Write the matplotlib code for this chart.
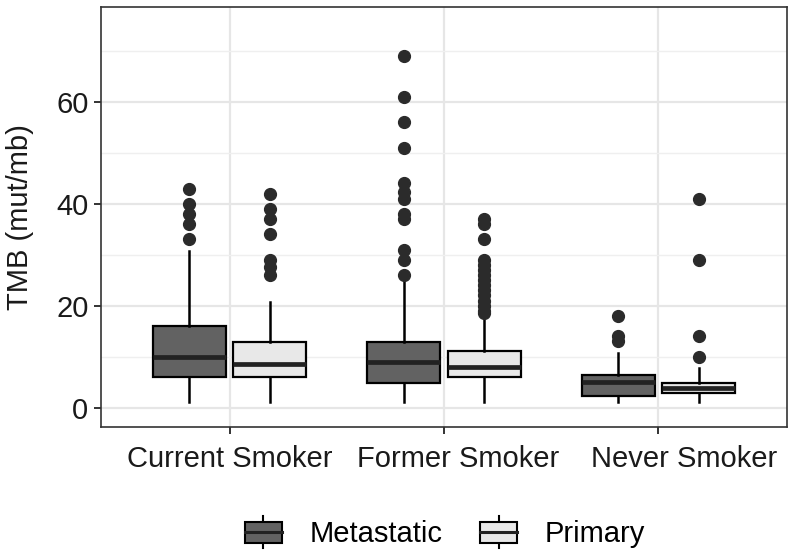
import matplotlib
matplotlib.use("Agg")
import matplotlib.pyplot as plt
from matplotlib.legend_handler import HandlerBase
from matplotlib.patches import Rectangle, Patch
from matplotlib.lines import Line2D
from matplotlib.transforms import ScaledTranslation

plt.rcParams['font.family'] = ['Liberation Sans', 'DejaVu Sans']

# data
categories = ["Current Smoker", "Former Smoker", "Never Smoker"]
groups = ["Metastatic", "Primary"]

# per category, Metastatic then Primary
met_q1 = [5.9, 4.9, 2.3]
met_med = [10.0, 9.0, 5.1]
met_q3 = [16.0, 12.9, 6.4]
met_lo = [1.0, 1.0, 1.0]
met_hi = [30.8, 25.2, 10.8]
met_out = [
    [43, 40, 38, 36, 33],
    [69, 61, 56, 51, 44, 42.4, 41, 38, 37, 31, 29, 26],
    [18, 14, 13],
]

pri_q1 = [5.9, 5.9, 2.8]
pri_med = [8.5, 8.0, 3.8]
pri_q3 = [12.9, 11.0, 4.9]
pri_lo = [1.0, 1.0, 1.0]
pri_hi = [20.8, 17.6, 7.7]
pri_out = [
    [42, 39, 37, 34, 29, 27.5, 26],
    [37, 36, 33, 29, 28, 27, 26, 25, 24, 23, 22, 21, 20, 19, 18.5],
    [41, 29, 14, 10],
]

met_color = "#626262"
pri_color = "#e8e8e8"


def stats(q1, med, q3, lo, hi, out):
    res = []
    for i in range(len(q1)):
        res.append(dict(q1=q1[i], med=med[i], q3=q3[i], whislo=lo[i],
                        whishi=hi[i], fliers=out[i]))
    return res


fig = plt.figure(figsize=(7.92, 5.59), dpi=100)
ax = fig.add_axes([0.1275, 0.2361, 0.8662, 0.7514])

xs = list(range(1, len(categories) + 1))
off = 0.1875
w = 0.34
box_kw = dict(patch_artist=True, widths=w, showcaps=False,
              boxprops=dict(edgecolor="black", linewidth=1.6),
              medianprops=dict(color="#222222", linewidth=3.4),
              whiskerprops=dict(color="black", linewidth=1.8),
              flierprops=dict(marker="o", markerfacecolor="#2b2b2b",
                              markeredgecolor="#2b2b2b", markersize=8.5))

b1 = ax.bxp(stats(met_q1, met_med, met_q3, met_lo, met_hi, met_out),
            positions=[x - off for x in xs], **box_kw)
b2 = ax.bxp(stats(pri_q1, pri_med, pri_q3, pri_lo, pri_hi, pri_out),
            positions=[x + off for x in xs], **box_kw)
for p in b1["boxes"]:
    p.set_facecolor(met_color)
for p in b2["boxes"]:
    p.set_facecolor(pri_color)

ax.set_xlim(0.4, 3.6)
ax.set_ylim(-3.83, 78.65)
ax.set_xticks(xs)
ax.set_xticklabels(categories)
ax.set_yticks([0, 20, 40, 60])
ax.set_yticks([10, 30, 50, 70], minor=True)
ax.tick_params(axis="both", which="major", labelsize=21, color="#333333",
               length=5, width=1.4, labelcolor="#1a1a1a")
ax.tick_params(axis="x", which="major", pad=8)
ax.tick_params(axis="y", which="major", pad=4)
ax.tick_params(axis="y", which="minor", length=0)
ax.grid(which="major", color="#e6e6e6", linewidth=1.6)
ax.grid(which="minor", axis="y", color="#efefef", linewidth=1.0)
ax.set_axisbelow(True)
for s in ax.spines.values():
    s.set_color("#333333")
    s.set_linewidth(1.2)
ax.set_ylabel("TMB (mut/mb)", fontsize=21, color="#1a1a1a", labelpad=16)

# the original's x labels sit a little right of their ticks
shift_px = [0, 14, 26]
for lab, dx in zip(ax.get_xticklabels(), shift_px):
    lab.set_transform(lab.get_transform() + ScaledTranslation(dx / 100, 0, fig.dpi_scale_trans))


class BoxHandler(HandlerBase):
    def create_artists(self, legend, orig_handle, xdescent, ydescent,
                       width, height, fontsize, trans):
        x0 = -xdescent
        y0 = -ydescent
        cx = x0 + width / 2
        cy = y0 + height / 2
        bh = height * 0.66
        stub1 = Line2D([cx, cx], [y0, cy - bh / 2], color="black", lw=1.5, transform=trans)
        stub2 = Line2D([cx, cx], [cy + bh / 2, y0 + height], color="black", lw=1.5, transform=trans)
        rect = Rectangle((x0, cy - bh / 2), width, bh, facecolor=orig_handle.get_facecolor(),
                         edgecolor="black", lw=1.5, transform=trans)
        med = Line2D([x0, x0 + width], [cy, cy], color="#222222", lw=2.2, transform=trans)
        return [stub1, stub2, rect, med]


handles = [Patch(facecolor=met_color), Patch(facecolor=pri_color)]
fig.legend(handles, groups, handler_map={Patch: BoxHandler()},
           loc="center", bbox_to_anchor=(0.562, 0.048), ncol=2, frameon=False,
           fontsize=21, handlelength=1.27, handleheight=1.3,
           handletextpad=0.95, columnspacing=1.3)

fig.savefig("out.png", dpi=100)
